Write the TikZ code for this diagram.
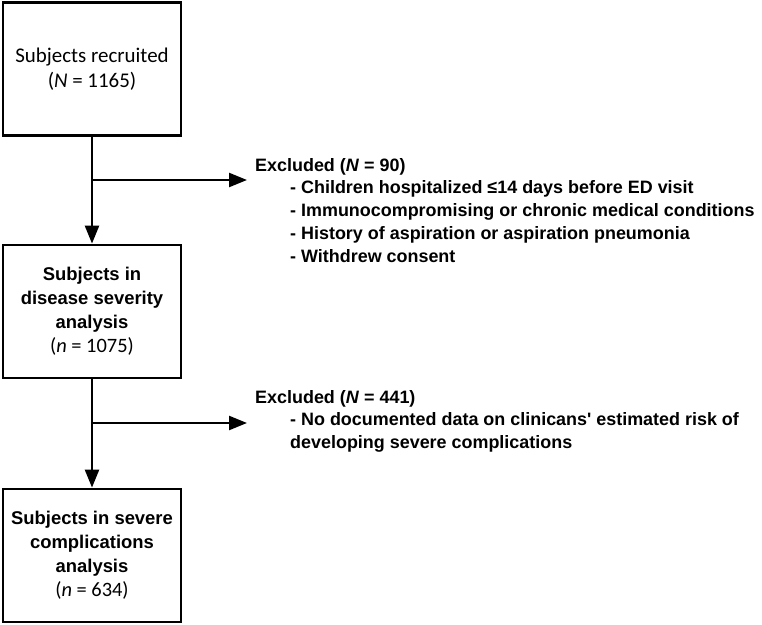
\documentclass[tikz,border=0pt]{standalone}
\usepackage{fontspec}
\setmainfont{Liberation Sans}
\newfontfamily\calibri{Carlito}
\usetikzlibrary{arrows.meta,positioning}

\tikzset{
  stagebox/.style={draw, line width=2.8bp, minimum width=178bp, minimum height=133bp,
    align=center, inner sep=0pt, font=\fontsize{18.5}{24}\selectfont\bfseries},
  flow/.style={line width=2.4bp, -{Triangle[length=18bp,width=14bp]}},
  exclnote/.style={anchor=north west, align=left, inner sep=0pt,
    font=\fontsize{18}{22.8}\selectfont\bfseries}
}
\newcommand{\countline}[1]{{\mdseries\calibri\fontsize{20.5}{24}\selectfont #1}}

\begin{document}
\begin{tikzpicture}[x=1bp, y=1bp]
    \useasboundingbox (0,0) rectangle (762,-625);
    % boxes
    \node[stagebox, font=\fontsize{21}{25}\selectfont\mdseries\calibri] (recruit) at (92,-69) {Subjects recruited\\(\textit{N} = 1165)};
    \node[stagebox] (severity) at (92,-311.5) {Subjects in\\disease severity\\analysis\\\countline{(\textit{n} = 1075)}};
    \node[stagebox] (complic) at (92,-555.5) {Subjects in severe\\complications\\analysis\\\countline{(\textit{n} = 634)}};
    % branch points
    \coordinate (b1) at (92,-180);
    \coordinate (b2) at (92,-423);
    \coordinate (e1) at (247,-180);
    \coordinate (e2) at (247,-423);
    \draw[flow] (recruit) -- (severity);
    \draw[flow] (severity) -- (complic);
    \draw[flow] (b1) -- (e1);
    \draw[flow] (b2) -- (e2);
    % exclusions
    \node[exclnote] (excl1) at (255,-158) {Excluded (\textit{N} = 90)\\
      \hspace*{35bp}- Children hospitalized ≤14 days before ED visit\\
      \hspace*{35bp}- Immunocompromising or chronic medical conditions\\
      \hspace*{35bp}- History of aspiration or aspiration pneumonia\\
      \hspace*{35bp}- Withdrew consent};
    \node[exclnote] (excl2) at (255,-390) {Excluded (\textit{N} = 441)\\
      \hspace*{35bp}- No documented data on clinicans\textquotesingle\ estimated risk of\\
      \hspace*{35bp}developing severe complications};
\end{tikzpicture}
\end{document}
